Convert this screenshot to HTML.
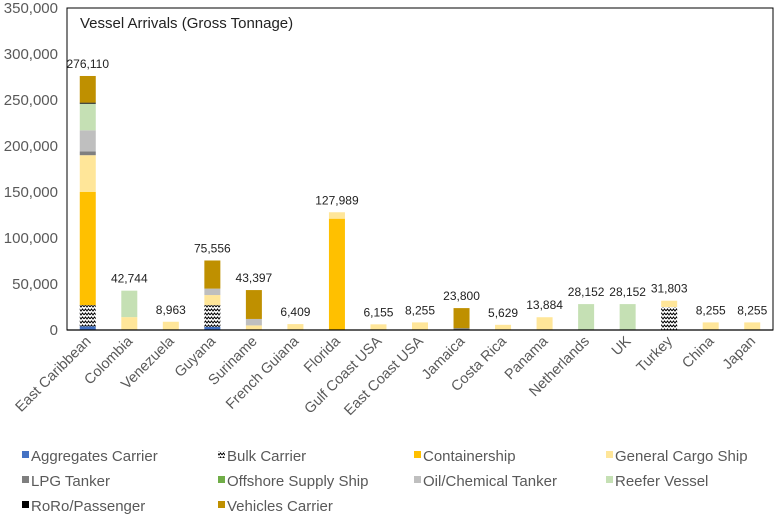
<!DOCTYPE html>
<html><head><meta charset="utf-8"><style>
body{margin:0;background:#fff;font-family:"Liberation Sans",Arial,sans-serif;}
svg text{font-family:"Liberation Sans",Arial,sans-serif;fill:#222;}
</style></head><body>
<svg id="chart" width="775" height="514" viewBox="0 0 775 514">
<defs>
<pattern id="zig" width="6" height="4" patternUnits="userSpaceOnUse">
<rect width="6" height="4" fill="#fff"/>
<path d="M0,3 L1.5,1 L3,3 L4.5,1 L6,3" stroke="#000" stroke-width="1" fill="none"/>
</pattern>
</defs>
<rect x="67" y="8" width="706" height="322" fill="none" stroke="#000" stroke-width="1"/>
<text x="80" y="28" font-size="15">Vessel Arrivals (Gross Tonnage)</text>
<g id="yaxis"></g><g id="bars"></g><g id="xlabels"></g><g id="legend"></g>
<line x1="67" y1="330" x2="773" y2="330" stroke="#000" stroke-width="1.2"/>
</svg>
<script>
const categories=["East Caribbean","Colombia","Venezuela","Guyana","Suriname","French Guiana","Florida","Gulf Coast USA","East Coast USA","Jamaica","Costa Rica","Panama","Netherlands","UK","Turkey","China","Japan"];
const seriesNames=["Aggregates Carrier","Bulk Carrier","Containership","General Cargo Ship","LPG Tanker","Offshore Supply Ship","Oil/Chemical Tanker","Reefer Vessel","RoRo/Passenger","Vehicles Carrier"];
const seriesColors=["#4472c4","url(#zig)","#ffc000","#ffe699","#7f7f7f","#70ad47","#bfbfbf","#c5e0b4","#000000","#bf9000"];
const aggregates=[4000,0,0,3500,0,0,0,0,0,0,0,0,0,0,0,0,0];
const bulk=[23000,0,0,23500,0,0,0,0,0,0,0,0,0,0,25000,0,0];
const container=[123000,0,0,0,0,0,121000,0,0,0,0,0,0,0,0,0,0];
const generalCargo=[40000,14000,8963,11000,5000,6409,6989,6155,8255,0,5629,13884,0,0,6803,8255,8255];
const lpg=[4000,0,0,0,0,0,0,0,0,2000,0,0,0,0,0,0,0];
const offshore=[0,0,0,0,0,0,0,0,0,0,0,0,0,0,0,0,0];
const oilChem=[23000,0,0,7000,7000,0,0,0,0,0,0,0,0,0,0,0,0];
const reefer=[29000,28744,0,0,0,0,0,0,0,0,0,0,28152,28152,0,0,0];
const roro=[1110,0,0,0,0,0,0,0,0,0,0,0,0,0,0,0,0];
const vehicles=[29000,0,0,30556,31397,0,0,0,0,21800,0,0,0,0,0,0,0];
const yTicks=[0,50000,100000,150000,200000,250000,300000,350000];
const tickLabels=["0","50,000","100,000","150,000","200,000","250,000","300,000","350,000"];
const series=[aggregates,bulk,container,generalCargo,lpg,offshore,oilChem,reefer,roro,vehicles];
const NS="http://www.w3.org/2000/svg";
const x0=67,x1=773,y0=330,yTop=8,ymax=350000;
const y=v=>y0-(v/ymax)*(y0-yTop);
const band=(x1-x0)/categories.length;
const xc=i=>x0+band*(i+0.5);
const bw=16;
function mk(t,a){const e=document.createElementNS(NS,t);for(const k in a)e.setAttribute(k,a[k]);return e;}
const ya=document.getElementById('yaxis');
yTicks.forEach((v,i)=>{const t=mk('text',{x:58,y:y(v)+5,'text-anchor':'end','font-size':15});t.textContent=tickLabels[i];


t.style.fill='#595959';ya.appendChild(t);});
const bg=document.getElementById('bars');
categories.forEach((c,i)=>{let acc=0;
series.forEach((s,k)=>{const v=s[i];if(!v)return;
const r=mk('rect',{x:xc(i)-bw/2,y:y(acc+v),width:bw,height:y(acc)-y(acc+v),fill:seriesColors[k]});


bg.appendChild(r);acc+=v;});
const t=mk('text',{x:xc(i),y:y(acc)-8,'text-anchor':'middle','font-size':12});
t.textContent=acc.toLocaleString('en-US');


bg.appendChild(t);
const l=mk('text',{x:xc(i)+4,y:342,'text-anchor':'end','font-size':14.5,transform:`rotate(-45 ${xc(i)+4} 342)`});
l.textContent=c;


l.style.fill='#595959';
document.getElementById('xlabels').appendChild(l);});
const lg=document.getElementById('legend');
const lx=[22,218,414,606],ly=[461,486,511];
seriesNames.forEach((n,k)=>{const cx=lx[k%4],cy=ly[Math.floor(k/4)];
const sw=mk('rect',{x:cx,y:cy-10,width:7,height:7,fill:seriesColors[k]});


lg.appendChild(sw);
const t=mk('text',{x:cx+9,y:cy,'font-size':15});t.textContent=n;


t.style.fill='#595959';lg.appendChild(t);});
</script>
</body></html>
